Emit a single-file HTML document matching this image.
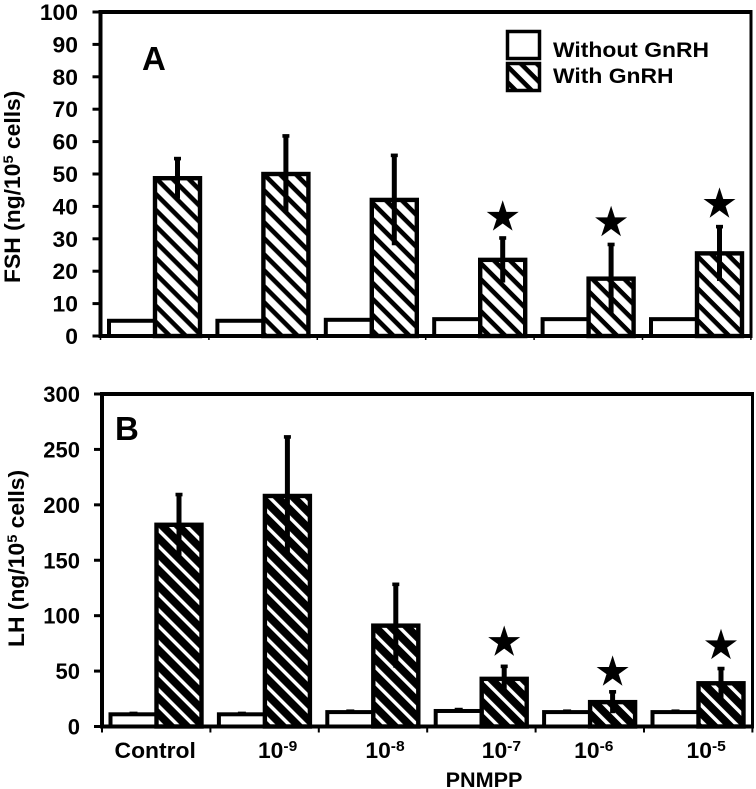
<!DOCTYPE html>
<html lang="en">
<head>
<meta charset="utf-8">
<title>FSH and LH release by PNMPP dose</title>
<style>
html,body{margin:0;padding:0;background:#fff;}
svg{display:block;}
text{font-family:"Liberation Sans",Arial,sans-serif;font-weight:bold;fill:#000;}
</style>
</head>
<body>
<svg id="chart" xmlns="http://www.w3.org/2000/svg" width="756" height="789" viewBox="0 0 756 789">
  <defs>
    <pattern id="hatch-a" patternUnits="userSpaceOnUse" width="11.3" height="11.3" patternTransform="translate(0,3) rotate(45)">
      <rect width="11.3" height="11.3" fill="#fff"/>
      <rect x="0" y="0" width="11.3" height="4.6" fill="#000"/>
    </pattern>
    <pattern id="hatch-b" patternUnits="userSpaceOnUse" width="11.3" height="11.3" patternTransform="translate(0,6.5) rotate(45)">
      <rect width="11.3" height="11.3" fill="#fff"/>
      <rect x="0" y="0" width="11.3" height="7.8" fill="#000"/>
    </pattern>
  </defs>

  <g id="panel-a-layer"></g>
  <g id="panel-b-layer"></g>

  <text x="142" y="70" font-size="33">A</text>
  <text x="115" y="440" font-size="33">B</text>

  <text transform="translate(20,283) rotate(-90) scale(1.04,1)" font-size="22">FSH (ng/10<tspan font-size="14" dy="-7">5</tspan><tspan dy="7"> cells)</tspan></text>
  <text transform="translate(24,647) rotate(-90) scale(1.04,1)" font-size="22">LH (ng/10<tspan font-size="14" dy="-7">5</tspan><tspan dy="7"> cells)</tspan></text>
  <text transform="translate(484,787) scale(1.03,1)" font-size="21" text-anchor="middle">PNMPP</text>

  <g>
    <rect x="507.5" y="31.5" width="32" height="27" fill="#fff" stroke="#000" stroke-width="3.5"/>
    <rect x="507.5" y="63.5" width="32" height="27" fill="url(#hatch-a)" stroke="#000" stroke-width="3.5"/>
    <text transform="translate(553,57) scale(1.09,1)" font-size="21">Without GnRH</text>
    <text transform="translate(553,83) scale(1.09,1)" font-size="21">With GnRH</text>
  </g>
</svg>

<script>
// Categories (PNMPP dose): base text and exponent
const categories = ['Control', '10', '10', '10', '10', '10'];
const categoryExponents = ['', '-9', '-8', '-7', '-6', '-5'];

// Panel A: FSH
const fshTicks = [0, 10, 20, 30, 40, 50, 60, 70, 80, 90, 100];
const fshWithout = [4.7, 4.7, 5.0, 5.2, 5.2, 5.2];
const fshWith = [48.7, 50.0, 42.0, 23.5, 17.7, 25.5];
const fshWithError = [6.3, 12.0, 14.0, 7.0, 10.8, 8.5];
const fshStarLevel = [null, null, null, 36.7, 35.0, 40.7];

// Panel B: LH
const lhTicks = [0, 50, 100, 150, 200, 250, 300];
const lhWithout = [11, 11, 13, 14, 13, 13];
const lhWithoutError = [1.5, 1.5, 1.5, 2, 1.5, 1.5];
const lhWith = [182, 208, 91, 43, 22, 39];
const lhWithError = [28, 54, 38, 12, 10, 14];
const lhStarLevel = [null, null, null, 76, 49, 73];

const SVG_NS = 'http://www.w3.org/2000/svg';

function make(tag, attrs, parent) {
  const el = document.createElementNS(SVG_NS, tag);
  for (const k in attrs) el.setAttribute(k, attrs[k]);
  parent.appendChild(el);
  return el;
}

function drawPanel(p) {
  const layer = document.getElementById(p.layer);
  const yMax = p.ticks[p.ticks.length - 1];
  const yScale = v => p.bottom - (v / yMax) * (p.bottom - p.top);
  const groupX = i => p.left + i * p.step;

  // bars
  p.without.forEach((v, i) => {
    const x = groupX(i) + 8.5;
    const bar = make('rect', {x: x, y: yScale(v), width: 46, height: p.bottom - yScale(v), fill: '#fff', stroke: '#000', 'stroke-width': 4}, layer);
    
    
    if (p.withoutError) {
      const top = yScale(v + p.withoutError[i]);
      const whisker = make('rect', {x: x + 19, y: top - 1, width: 8, height: yScale(v) - top + 1, fill: '#000'}, layer);
      
      
    }
  });

  p.withG.forEach((v, i) => {
    const x = groupX(i) + 54.5;
    const bar = make('rect', {x: x, y: yScale(v), width: 45, height: p.bottom - yScale(v), fill: 'url(#' + p.hatch + ')', stroke: '#000', 'stroke-width': 4.4}, layer);
    
    

    const cx = x + 22.5;
    const hi = yScale(v + p.withError[i]);
    const lo = yScale(v - p.withError[i]);
    const stem = make('rect', {x: cx - 2.5, y: hi, width: 5, height: lo - hi, fill: '#000'}, layer);
    
    
    const cap = make('rect', {x: cx - 3.5, y: hi - 1, width: 7, height: 3.6, fill: '#000'}, layer);
    
    

    if (p.stars[i] !== null) {
      const sy = yScale(p.stars[i]);
      const pts = [];
      for (let k = 0; k < 10; k++) {
        const r = k % 2 ? 6.4 : 16.8;
        const a = -Math.PI / 2 + k * Math.PI / 5;
        pts.push((cx + r * Math.cos(a)).toFixed(2) + ',' + (sy + r * Math.sin(a)).toFixed(2));
      }
      const star = make('polygon', {points: pts.join(' '), fill: '#000'}, layer);
      
      
    }
  });

  // plot frame
  const frameTop = make('line', {x1: p.left - 2, x2: p.right + 1.5, y1: p.top, y2: p.top, stroke: '#000', 'stroke-width': 4}, layer);
  
  
  const frameRight = make('line', {x1: p.right, x2: p.right, y1: p.top, y2: p.bottom + 2, stroke: '#000', 'stroke-width': 3}, layer);
  
  
  const yAxis = make('line', {x1: p.left, x2: p.left, y1: p.top - 2, y2: p.bottom + 2, stroke: '#000', 'stroke-width': 4}, layer);
  
  
  const xAxis = make('line', {x1: p.left, x2: p.right, y1: p.bottom, y2: p.bottom, stroke: '#000', 'stroke-width': 4}, layer);
  
  

  // y ticks
  p.ticks.forEach(t => {
    const y = yScale(t);
    const tick = make('line', {x1: p.left - 8, x2: p.left, y1: y, y2: y, stroke: '#000', 'stroke-width': 3}, layer);
    
    
    const label = make('text', {transform: 'translate(' + p.labelRight + ',' + (y + 8) + ') scale(' + p.labelStretch + ',1)', 'font-size': 22, 'text-anchor': 'end'}, layer);
    label.textContent = t;
    
    
  });

  // x ticks
  for (let i = 0; i <= categories.length; i++) {
    const x = groupX(i);
    const tick = make('line', {x1: x, x2: x, y1: p.bottom, y2: p.bottom + p.xTickLen, stroke: '#000', 'stroke-width': p.xTickWidth}, layer);
    
    
  }

  // x tick labels (hand-placed in the original figure, hence the nudges)
  if (p.showCategories) {
    const nudges = [-1, 13, 12, 20, 4, 8];
    categories.forEach((c, i) => {
      const cx = groupX(i) + p.step / 2 + nudges[i];
      const label = make('text', {transform: 'translate(' + cx + ',758) scale(1.04,1)', 'font-size': 22, 'text-anchor': 'middle'}, layer);
      
      
      const base = make('tspan', {}, label);
      base.textContent = c;
      if (categoryExponents[i]) {
        const sup = make('tspan', {'font-size': 15, dy: -7}, label);
        sup.textContent = categoryExponents[i];
      }
    });
  }
}

drawPanel({
  layer: 'panel-a-layer', left: 100.5, right: 751, top: 12, bottom: 336, step: 108.4,
  ticks: fshTicks, without: fshWithout, withoutError: null, withG: fshWith, withError: fshWithError,
  stars: fshStarLevel, hatch: 'hatch-a', labelRight: 78, labelStretch: 1.04,
  xTickLen: 4, xTickWidth: 1.5, showCategories: false
});

drawPanel({
  layer: 'panel-b-layer', left: 102, right: 752.5, top: 394, bottom: 726.5, step: 108.4,
  ticks: lhTicks, without: lhWithout, withoutError: lhWithoutError, withG: lhWith, withError: lhWithError,
  stars: lhStarLevel, hatch: 'hatch-b', labelRight: 80, labelStretch: 1,
  xTickLen: 6, xTickWidth: 2, showCategories: true
});
</script>
</body>
</html>
